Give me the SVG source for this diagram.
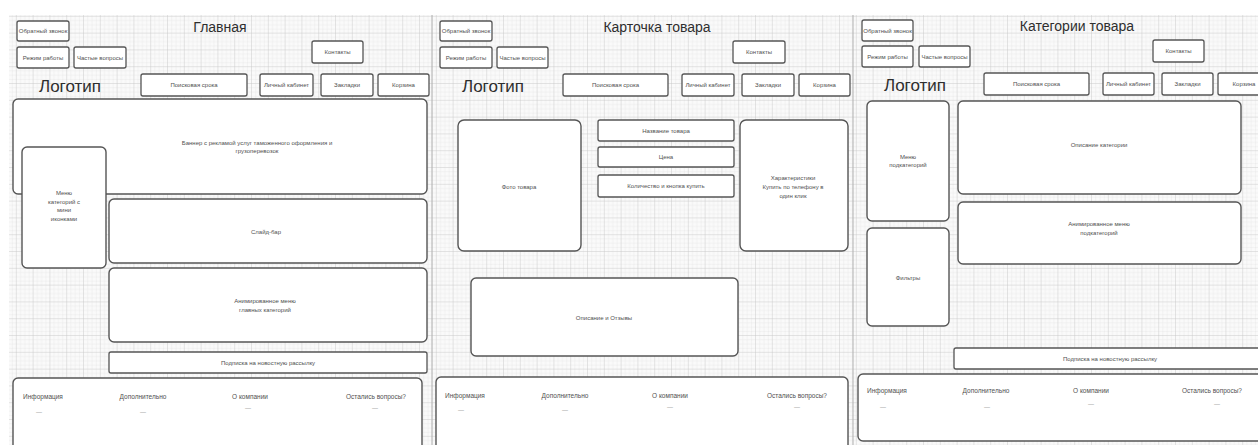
<svg xmlns="http://www.w3.org/2000/svg" width="1258" height="445" viewBox="0 0 1258 445">
  <defs>
    <pattern id="gridMinor" width="4.2" height="4.2" patternUnits="userSpaceOnUse">
      <path d="M4.2 0V4.2H0" fill="none" stroke="#dcdcdc" stroke-width="0.6"/>
    </pattern>
    <pattern id="gridMajor" width="16.8" height="16.8" patternUnits="userSpaceOnUse">
      <rect width="16.8" height="16.8" fill="url(#gridMinor)"/>
      <path d="M16.8 0V16.8H0" fill="none" stroke="#c6c6c6" stroke-width="0.7"/>
    </pattern>
  </defs>
  <style>
    .box { fill: #ffffff; stroke: #555555; stroke-width: 1.3; }
    .big { fill: #ffffff; stroke: #555555; stroke-width: 1.4; }
    .lbl { font-family: "Liberation Sans", Arial, sans-serif; font-size: 6px; fill: #505050; text-anchor: middle; }
    .ftr { font-family: "Liberation Sans", Arial, sans-serif; font-size: 6.5px; fill: #505050; text-anchor: middle; }
    .dash { font-family: "Liberation Sans", Arial, sans-serif; font-size: 6px; fill: #8a8a8a; text-anchor: middle; }
    .title { font-family: "Liberation Sans", Arial, sans-serif; font-size: 14px; fill: #2e2e2e; text-anchor: middle; }
    .logo { font-family: "Liberation Sans", Arial, sans-serif; font-size: 17px; fill: #2e2e2e; text-anchor: middle; }
    .sep { stroke: #b0b0b0; stroke-width: 1; }
  </style>

  <!-- page background and drawing grid -->
  <rect width="1258" height="445" fill="#ffffff"/>
  <rect x="9" y="15" width="1249" height="430" fill="#fafafa"/>
  <rect x="9" y="15" width="1249" height="430" fill="url(#gridMajor)"/>
  <line class="sep" x1="432" y1="15" x2="432" y2="445"/>
  <line class="sep" x1="853" y1="15" x2="853" y2="445"/>

  <!-- ===== Page 1: main page ===== -->
  <g id="page-main">
    <text id="main-title" class="title" x="220" y="32">Главная</text>
    <g id="main-callback"><rect class="box" x="17" y="21" width="52" height="20" rx="2"/><text class="lbl" x="43" y="33">Обратный звонок</text></g>
    <g id="main-hours"><rect class="box" x="17" y="47" width="52" height="21" rx="2"/><text class="lbl" x="43" y="59.5">Режим работы</text></g>
    <g id="main-faq"><rect class="box" x="74" y="47" width="52" height="21" rx="2"/><text class="lbl" x="100" y="59.5">Частые вопросы</text></g>
    <g id="main-contacts"><rect class="box" x="312" y="41" width="51" height="22" rx="2"/><text class="lbl" x="337.5" y="54">Контакты</text></g>
    <text id="main-logo" class="logo" x="70" y="92">Логотип</text>
    <g id="main-search"><rect class="box" x="141" y="74" width="106" height="22" rx="2"/><text class="lbl" x="194" y="87">Поисковая срока</text></g>
    <g id="main-account"><rect class="box" x="260" y="74" width="53" height="22" rx="2"/><text class="lbl" x="286.5" y="87">Личный кабинет</text></g>
    <g id="main-bookmarks"><rect class="box" x="321" y="74" width="52" height="22" rx="2"/><text class="lbl" x="347" y="87">Закладки</text></g>
    <g id="main-cart"><rect class="box" x="378" y="74" width="51" height="22" rx="2"/><text class="lbl" x="403.5" y="87">Корзина</text></g>
    <g id="main-banner">
      <rect class="big" x="13" y="99" width="414" height="95" rx="5"/>
      <text class="lbl" x="257" y="144.5">Баннер с рекламой услуг таможенного оформления и</text>
      <text class="lbl" x="257" y="153">грузоперевозок</text>
    </g>
    <g id="main-category-menu">
      <rect class="big" x="22" y="147" width="84" height="121" rx="5"/>
      <text class="lbl" x="64" y="195">Меню</text>
      <text class="lbl" x="64" y="203.5">категорий с</text>
      <text class="lbl" x="64" y="212">мини</text>
      <text class="lbl" x="64" y="220.5">иконками</text>
    </g>
    <g id="main-slider"><rect class="big" x="109" y="199" width="318" height="64" rx="5"/><text class="lbl" x="266" y="234">Слайд-бар</text></g>
    <g id="main-animated-menu">
      <rect class="big" x="109" y="268" width="318" height="74" rx="5"/>
      <text class="lbl" x="265" y="303">Анимированное меню</text>
      <text class="lbl" x="265" y="312">главных категорий</text>
    </g>
    <g id="main-subscribe"><rect class="box" x="109" y="352" width="318" height="21" rx="2"/><text class="lbl" x="268" y="365">Подписка на новостную рассылку</text></g>
    <g id="main-footer">
      <rect class="big" x="13" y="378" width="409" height="80" rx="5"/>
      <text class="ftr" x="43" y="399">Информация</text>
      <text class="ftr" x="143" y="399">Дополнительно</text>
      <text class="ftr" x="250" y="399">О компании</text>
      <text class="ftr" x="376" y="399">Остались вопросы?</text>
      <text class="dash" x="39" y="414">—</text>
      <text class="dash" x="143" y="414">—</text>
      <text class="dash" x="248" y="410">—</text>
      <text class="dash" x="375" y="410">—</text>
    </g>
  </g>

  <!-- ===== Page 2: product card ===== -->
  <g id="page-product">
    <text id="product-title" class="title" x="657" y="32">Карточка товара</text>
    <g id="product-callback"><rect class="box" x="440" y="21" width="52" height="20" rx="2"/><text class="lbl" x="466" y="33">Обратный звонок</text></g>
    <g id="product-hours"><rect class="box" x="440" y="47" width="52" height="21" rx="2"/><text class="lbl" x="466" y="59.5">Режим работы</text></g>
    <g id="product-faq"><rect class="box" x="497" y="47" width="51" height="21" rx="2"/><text class="lbl" x="522.5" y="59.5">Частые вопросы</text></g>
    <g id="product-contacts"><rect class="box" x="733" y="41" width="52" height="22" rx="2"/><text class="lbl" x="759" y="54">Контакты</text></g>
    <text id="product-logo" class="logo" x="493" y="92">Логотип</text>
    <g id="product-search"><rect class="box" x="563" y="74" width="105" height="22" rx="2"/><text class="lbl" x="615.5" y="87">Поисковая срока</text></g>
    <g id="product-account"><rect class="box" x="682" y="74" width="52" height="22" rx="2"/><text class="lbl" x="708" y="87">Личный кабинет</text></g>
    <g id="product-bookmarks"><rect class="box" x="742" y="74" width="52" height="22" rx="2"/><text class="lbl" x="768" y="87">Закладки</text></g>
    <g id="product-cart"><rect class="box" x="799" y="74" width="51" height="22" rx="2"/><text class="lbl" x="824.5" y="87">Корзина</text></g>
    <g id="product-photo"><rect class="big" x="458" y="120" width="123" height="131" rx="6"/><text class="lbl" x="519" y="189">Фото товара</text></g>
    <g id="product-name"><rect class="box" x="598" y="120" width="136" height="21" rx="2"/><text class="lbl" x="666" y="133">Название товара</text></g>
    <g id="product-price"><rect class="box" x="598" y="147" width="136" height="20" rx="2"/><text class="lbl" x="666" y="159">Цена</text></g>
    <g id="product-buy"><rect class="box" x="598" y="175" width="136" height="22" rx="2"/><text class="lbl" x="666" y="188">Количество и кнопка купить</text></g>
    <g id="product-specs">
      <rect class="big" x="740" y="120" width="108" height="131" rx="6"/>
      <text class="lbl" x="793" y="180">Характеристики</text>
      <text class="lbl" x="793" y="189">Купить по телефону в</text>
      <text class="lbl" x="793" y="197.5">один клик</text>
    </g>
    <g id="product-reviews"><rect class="big" x="471" y="278" width="267" height="78" rx="5"/><text class="lbl" x="604" y="320">Описание и Отзывы</text></g>
    <g id="product-footer">
      <rect class="big" x="436" y="377" width="412" height="80" rx="5"/>
      <text class="ftr" x="465" y="398">Информация</text>
      <text class="ftr" x="565" y="398">Дополнительно</text>
      <text class="ftr" x="670" y="398">О компании</text>
      <text class="ftr" x="797" y="398">Остались вопросы?</text>
      <text class="dash" x="461" y="412">—</text>
      <text class="dash" x="565" y="412">—</text>
      <text class="dash" x="670" y="409">—</text>
      <text class="dash" x="797" y="409">—</text>
    </g>
  </g>

  <!-- ===== Page 3: product categories ===== -->
  <g id="page-categories">
    <text id="categories-title" class="title" x="1077" y="31">Категории товара</text>
    <g id="categories-callback"><rect class="box" x="862" y="20" width="51" height="21" rx="2"/><text class="lbl" x="887.5" y="32.5">Обратный звонок</text></g>
    <g id="categories-hours"><rect class="box" x="862" y="46" width="51" height="21" rx="2"/><text class="lbl" x="887.5" y="58.5">Режим работы</text></g>
    <g id="categories-faq"><rect class="box" x="919" y="46" width="51" height="21" rx="2"/><text class="lbl" x="944.5" y="58.5">Частые вопросы</text></g>
    <g id="categories-contacts"><rect class="box" x="1153" y="40" width="51" height="22" rx="2"/><text class="lbl" x="1178.5" y="53">Контакты</text></g>
    <text id="categories-logo" class="logo" x="915" y="91">Логотип</text>
    <g id="categories-search"><rect class="box" x="984" y="73" width="105" height="22" rx="2"/><text class="lbl" x="1036.5" y="86">Поисковая срока</text></g>
    <g id="categories-account"><rect class="box" x="1103" y="73" width="51" height="22" rx="2"/><text class="lbl" x="1128.5" y="86">Личный кабинет</text></g>
    <g id="categories-bookmarks"><rect class="box" x="1162" y="73" width="51" height="22" rx="2"/><text class="lbl" x="1187.5" y="86">Закладки</text></g>
    <g id="categories-cart"><rect class="box" x="1218" y="73" width="52" height="22" rx="2"/><text class="lbl" x="1244" y="86">Корзина</text></g>
    <g id="categories-submenu">
      <rect class="big" x="867" y="101" width="82" height="120" rx="5"/>
      <text class="lbl" x="908" y="159">Меню</text>
      <text class="lbl" x="908" y="167">подкатегорий</text>
    </g>
    <g id="categories-description"><rect class="big" x="958" y="101" width="283" height="93" rx="5"/><text class="lbl" x="1099" y="147">Описание категории</text></g>
    <g id="categories-animated-menu">
      <rect class="big" x="958" y="202" width="283" height="62" rx="5"/>
      <text class="lbl" x="1099" y="226">Анимированное меню</text>
      <text class="lbl" x="1099" y="235">подкатегорий</text>
    </g>
    <g id="categories-filters"><rect class="big" x="867" y="228" width="82" height="98" rx="5"/><text class="lbl" x="908" y="280">Фильтры</text></g>
    <g id="categories-subscribe"><rect class="box" x="954" y="348" width="320" height="21" rx="2"/><text class="lbl" x="1110" y="361">Подписка на новостную рассылку</text></g>
    <g id="categories-footer">
      <rect class="big" x="858" y="374" width="420" height="67" rx="5"/>
      <text class="ftr" x="887" y="393">Информация</text>
      <text class="ftr" x="986" y="393">Дополнительно</text>
      <text class="ftr" x="1091" y="393">О компании</text>
      <text class="ftr" x="1212" y="393">Остались вопросы?</text>
      <text class="dash" x="883" y="409">—</text>
      <text class="dash" x="987" y="409">—</text>
      <text class="dash" x="1091" y="406">—</text>
      <text class="dash" x="1217" y="406">—</text>
    </g>
  </g>

  <!-- no links between the page blocks -->
  <g id="connectors"/>
</svg>
